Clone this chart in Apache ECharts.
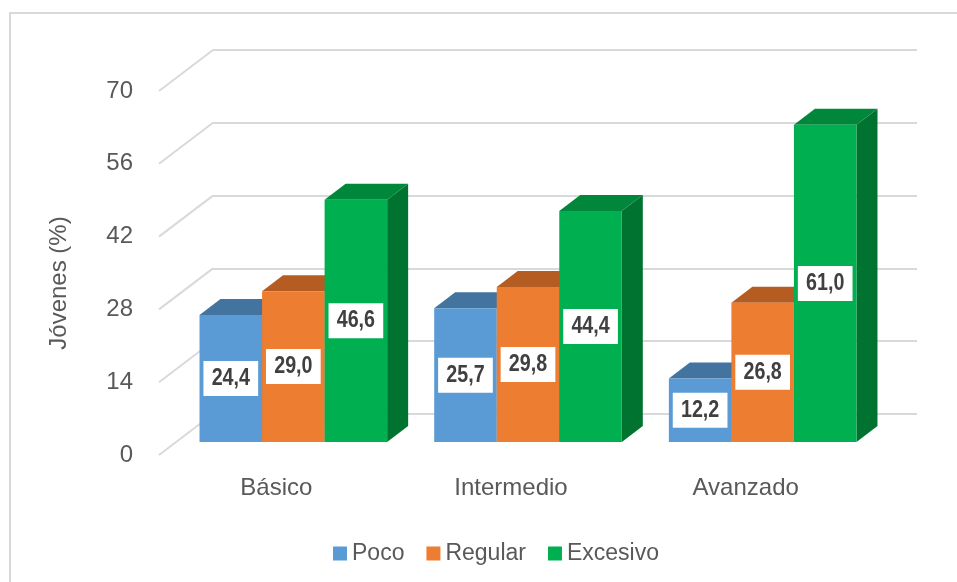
<!DOCTYPE html>
<html>
<head>
<meta charset="utf-8">
<title>Jóvenes (%)</title>
<script src="https://cdn.jsdelivr.net/npm/echarts@6/dist/echarts.min.js"></script>
<style>
  html, body { margin: 0; padding: 0; background: #fff; }
  #chart { width: 957px; height: 582px; }
</style>
</head>
<body>
<div id="chart"></div>
<script>
  // datos
  var categories = ['Básico', 'Intermedio', 'Avanzado'];
  var poco = [24.4, 25.7, 12.2];
  var regular = [29.0, 29.8, 26.8];
  var excesivo = [46.6, 44.4, 61.0];
  var yTicks = [0, 14, 28, 42, 56, 70];

  var textColor = '#595959';
  var gridColor = '#d9d9d9';
  // profundidad del "3D": de la pared frontal a la del fondo
  var DX = 54, DY = -41;
  var FX = 17, FY = -13;   // cara frontal de las barras
  var BX = 21, BY = -16;   // fondo de cada barra

  var seriesDefs = [
    { name: 'Poco', values: poco, front: '#5b9bd5', top: '#43739f', side: '#3a6690' },
    { name: 'Regular', values: regular, front: '#ed7d31', top: '#b45c22', side: '#a1521e' },
    { name: 'Excesivo', values: excesivo, front: '#00b050', top: '#00873c', side: '#007330' }
  ];

  function barRenderer (s, def) {
    return function (params, api) {
      var idx = api.value(0);
      var base = api.coord([idx, 0]);
      var top = api.coord([idx, api.value(1)]);
      var band = api.size([1, 0])[0];
      var w = band * 0.2665;
      var x = base[0] + FX - 1.5 * w + s * w;
      var yb = base[1] + FY;
      var yt = top[1] + FY;
      var txt = api.value(1).toFixed(1).replace('.', ',');
      return {
        type: 'group',
        children: [
          {
            type: 'polygon',
            shape: { points: [[x + w, yt], [x + w + BX, yt + BY], [x + w + BX, yb + BY], [x + w, yb]] },
            style: { fill: def.side }
          },
          {
            type: 'polygon',
            shape: { points: [[x, yt], [x + w, yt], [x + w + BX, yt + BY], [x + BX, yt + BY]] },
            style: { fill: def.top }
          },
          {
            type: 'rect',
            shape: { x: x, y: yt, width: w, height: yb - yt },
            style: { fill: def.front }
          },
          {
            // etiqueta estrecha, como Arial Narrow
            type: 'text',
            x: x + w / 2,
            y: (yt + yb) / 2,
            scaleX: 0.82,
            z2: 10,
            style: {
              text: txt,
              align: 'center',
              verticalAlign: 'middle',
              fill: '#404040',
              fontSize: 24,
              fontWeight: 'bold',
              fontFamily: '"Liberation Sans", Arial, sans-serif',
              backgroundColor: '#ffffff',
              padding: [6, 10, 5, 10]
            }
          }
        ]
      };
    };
  }

  var chart = echarts.init(document.getElementById('chart'));

  var series = [{
    type: 'custom',
    xAxisIndex: 0,
    yAxisIndex: 0,
    silent: true,
    z: 1,
    data: yTicks.map(function (v) { return [0, v]; }),
    renderItem: function (params, api) {
      var p = api.coord([0, api.value(1)]);
      var x0 = params.coordSys.x;
      return {
        type: 'line',
        shape: { x1: x0, y1: p[1], x2: x0 + DX, y2: p[1] + DY },
        style: { stroke: gridColor, lineWidth: 2 }
      };
    }
  }];

  seriesDefs.forEach(function (def, s) {
    series.push({
      name: def.name,
      type: 'custom',
      xAxisIndex: 0,
      yAxisIndex: 0,
      z: 3,
      itemStyle: { color: def.front },
      data: categories.map(function (c, i) { return [i, def.values[i]]; }),
      renderItem: barRenderer(s, def)
    });
  });

  chart.setOption({
    animation: false,
    textStyle: { fontFamily: '"Liberation Sans", Arial, sans-serif' },
    graphic: [
      {
        type: 'rect',
        shape: { x: 10, y: 13, width: 1000, height: 620 },
        style: { fill: 'none', stroke: gridColor, lineWidth: 2 },
        silent: true
      },
      {
        type: 'text',
        x: 59,
        y: 283,
        rotation: Math.PI / 2,
        style: {
          text: 'Jóvenes (%)',
          fill: textColor,
          fontSize: 24,
          fontFamily: '"Liberation Sans", Arial, sans-serif',
          align: 'center',
          verticalAlign: 'middle'
        }
      }
    ],
    legend: {
      data: ['Poco', 'Regular', 'Excesivo'],
      left: 328,
      top: 537,
      icon: 'rect',
      itemWidth: 14,
      itemHeight: 14,
      itemGap: 22,
      textStyle: { color: textColor, fontSize: 23 }
    },
    grid: [
      { left: 159, right: 94, top: 91, bottom: 127 },
      { left: 213, right: 40, top: 50, bottom: 168 }
    ],
    xAxis: [
      {
        type: 'category',
        gridIndex: 0,
        data: categories,
        axisLine: { show: false },
        axisTick: { show: false },
        axisLabel: { color: textColor, fontSize: 24, margin: 21 }
      },
      {
        type: 'category',
        gridIndex: 1,
        data: categories,
        show: false
      }
    ],
    yAxis: [
      {
        type: 'value',
        gridIndex: 0,
        min: 0,
        max: 70,
        interval: 14,
        axisLine: { show: false },
        axisTick: { show: false },
        splitLine: { show: false },
        axisLabel: { color: textColor, fontSize: 24, margin: 26 }
      },
      {
        type: 'value',
        gridIndex: 1,
        min: 0,
        max: 70,
        interval: 14,
        axisLine: { show: false },
        axisTick: { show: false },
        axisLabel: { show: false },
        splitLine: { lineStyle: { color: gridColor, width: 2 } }
      }
    ],
    series: series
  });
</script>
</body>
</html>
